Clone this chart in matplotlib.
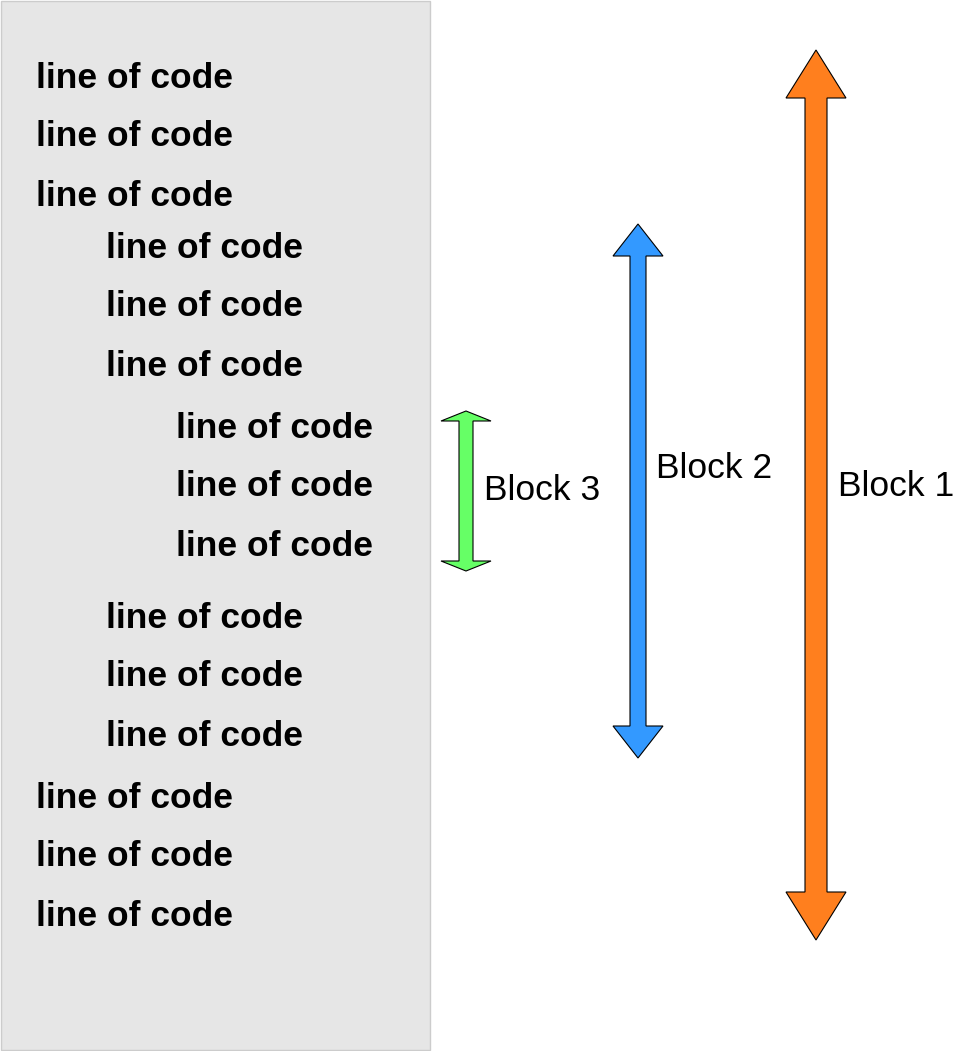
import matplotlib
matplotlib.use("Agg")
import matplotlib.pyplot as plt
from matplotlib.patches import Rectangle, Polygon

# code lines: indent level and vertical centre (px)
line_levels = [0, 0, 0, 1, 1, 1, 2, 2, 2, 1, 1, 1, 0, 0, 0]
line_y = [78, 137, 196, 248, 307, 366, 428, 487, 546, 618, 677, 736, 798, 857, 916]
indent_x = [36, 106, 176]

# block arrows
block_names = ['Block 1', 'Block 2', 'Block 3']
block_x = [816, 638, 466]
block_top = [50, 224, 411]
block_bottom = [940, 758, 571]
block_colors = ['#ff7f1e', '#3399ff', '#66ff66']
head_w = [60, 50, 50]
head_l = [48, 32, 10]
shaft_w = [22, 16, 14]
label_x = [838, 656, 484]
label_y = [487, 468, 490]

W, H = 963, 1051
fig = plt.figure(figsize=(W / 100, H / 100), dpi=100)
ax = fig.add_axes([0, 0, 1, 1])
ax.set_xlim(0, W)
ax.set_ylim(H, 0)
ax.axis('off')

ax.add_patch(Rectangle((1, 1), 429, H - 2, facecolor='#e6e6e6',
                       edgecolor='#cccccc', linewidth=1))

for lvl, y in zip(line_levels, line_y):
    ax.text(indent_x[lvl], y, 'line of code', family='Liberation Sans',
            fontweight='bold', fontsize=25.5, va='center', ha='left')


def double_arrow(x, top, bot, hw, hl, sw, color):
    pts = [
        (x, top), (x + hw / 2, top + hl), (x + sw / 2, top + hl),
        (x + sw / 2, bot - hl), (x + hw / 2, bot - hl), (x, bot),
        (x - hw / 2, bot - hl), (x - sw / 2, bot - hl),
        (x - sw / 2, top + hl), (x - hw / 2, top + hl),
    ]
    ax.add_patch(Polygon(pts, closed=True, facecolor=color,
                         edgecolor='black', linewidth=0.8))


for i, name in enumerate(block_names):
    double_arrow(block_x[i], block_top[i], block_bottom[i],
                 head_w[i], head_l[i], shaft_w[i], block_colors[i])
    ax.text(label_x[i], label_y[i], name, family='Liberation Sans',
            fontsize=25.5, va='center', ha='left')

fig.savefig('out.png', dpi=100, facecolor='white')
